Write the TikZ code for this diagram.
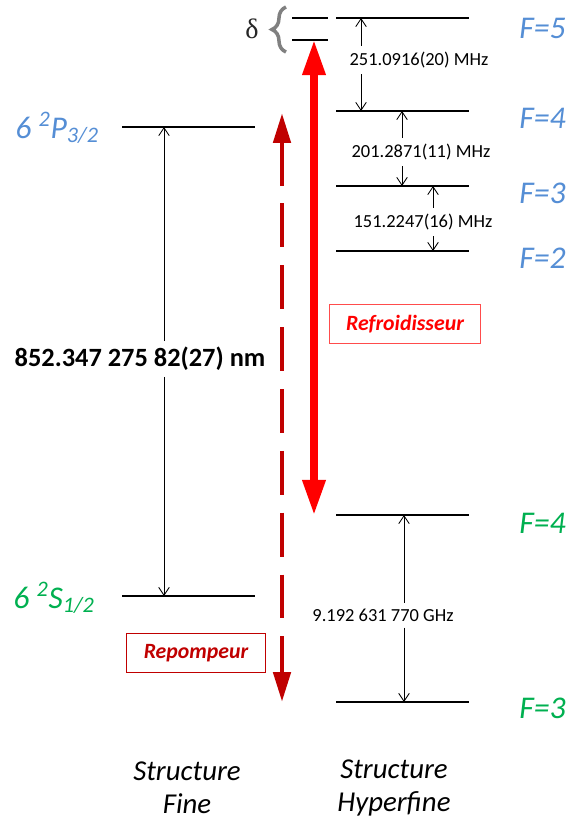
\documentclass[tikz,border=0pt]{standalone}
\usepackage{fontspec}
\setmainfont{Carlito}
\newfontfamily\deltafont{Liberation Serif}
\usepackage{tikz}
\usetikzlibrary{arrows.meta, decorations.pathreplacing}

\definecolor{levelblue}{HTML}{558ED5}
\definecolor{levelgreen}{HTML}{00B050}
\definecolor{darkred}{HTML}{C00000}

\tikzset{
    level/.style={line width=1.4pt},
    gap/.style={line width=0.5pt, -{Straight Barb[length=4.5pt,width=6pt]}},
    lbl/.style={font=\fontsize{18}{20}\selectfont\itshape, anchor=base west, inner sep=0pt},
    freq/.style={font=\fontsize{10.5}{12}\selectfont},
    laser/.style={draw, line width=0.6pt, font=\fontsize{12.4}{14}\selectfont\bfseries\itshape, minimum height=22.7pt},
}

\begin{document}
\begin{tikzpicture}[x=0.02cm, y=-0.02cm]
    \useasboundingbox (0,0) rectangle (571,825);

    % FINE STRUCTURE
    \draw[level] (122,127) coordinate (P32) -- (255,127);
    \draw[level] (122,596) coordinate (S12) -- (255,596);
    \node[lbl, text=levelblue] (lP32) at (15,138) {6 \textsuperscript{2}P\textsubscript{3/2}};
    \node[lbl, text=levelgreen] (lS12) at (13,608) {6 \textsuperscript{2}S\textsubscript{1/2}};

    \node[font=\fontsize{15}{17}\selectfont\bfseries] (wl) at (140,359) {852.347 275 82(27) nm};
    \draw[gap] (164,0 |- wl.north) -- (164,0 |- P32);
    \draw[gap] (164,0 |- wl.south) -- (164,0 |- S12);

    % HYPERFINE STRUCTURE
    \foreach \y/\n in {18/F5, 111/F4, 186/F3, 251/F2, 515/G4, 702/G3} {
        \draw[level] (336,\y) coordinate (\n) -- (469,\y);
    }
    \draw[level] (292,18) -- (328,18);
    \draw[level] (292,40) coordinate (F5d) -- (328,40);
    \draw[gray, line width=2pt, decorate, decoration={brace, amplitude=8pt}] (286,52) -- (286,7);
    \node[font=\deltafont\fontsize{16}{18}\selectfont, text=black!85] (delta) at (252,29) {δ};

    \foreach \y/\t in {38/5, 128/4, 203/3, 268/2} {
        \node[lbl, text=levelblue] (lF\t) at (519,\y) {F=\t};
    }
    \foreach \y/\t in {533/4, 718/3} {
        \node[lbl, text=levelgreen] (lG\t) at (519,\y) {F=\t};
    }

    % splittings
    \node[freq] (d54) at (419,60) {251.0916(20) MHz};
    \draw[gap] (361,0 |- d54.north) -- (361,0 |- F5);
    \draw[gap] (361,0 |- d54.south) -- (361,0 |- F4);
    \node[freq] (d43) at (421,152) {201.2871(11) MHz};
    \draw[gap] (402,0 |- d43.north) -- (402,0 |- F4);
    \draw[gap] (402,0 |- d43.south) -- (402,0 |- F3);
    \node[freq] (d32) at (423,222) {151.2247(16) MHz};
    \draw[gap] (433,0 |- d32.north) -- (433,0 |- F3);
    \draw[gap] (433,0 |- d32.south) -- (433,0 |- F2);
    \node[freq] (dg) at (383,615) {9.192 631 770 GHz};
    \draw[gap] (404,0 |- dg.north) -- (404,0 |- G4);
    \draw[gap] (404,0 |- dg.south) -- (404,0 |- G3);

    % LASERS
    \draw[red, line width=4pt, {Triangle[length=20pt,width=12.5pt]}-{Triangle[length=20pt,width=12.5pt]}]
        (314,0 |- F5d) -- (314,0 |- G4);
    \coordinate (reptop) at (282,113);
    \draw[darkred, line width=2.8pt, dash pattern=on 25pt off 10.2pt,
        {Triangle[length=17pt,width=9.6pt]}-{Triangle[length=17pt,width=9.6pt]}]
        (reptop) -- (reptop |- G3);

    \node[laser, draw=red!70, text=red, minimum width=86pt] (cool) at (405,324) {Refroidisseur};
    \node[laser, draw=darkred, text=darkred, minimum width=79pt] (rep) at (196,653) {Repompeur};

    % labels below
    \node[font=\fontsize{16.4}{18.7}\selectfont\itshape, align=center] (sfine) at (187,788) {Structure\\Fine};
    \node[font=\fontsize{16.4}{18.7}\selectfont\itshape, align=center] (shyp) at (394,788) {Structure\\Hyperfine};
\end{tikzpicture}
\end{document}
